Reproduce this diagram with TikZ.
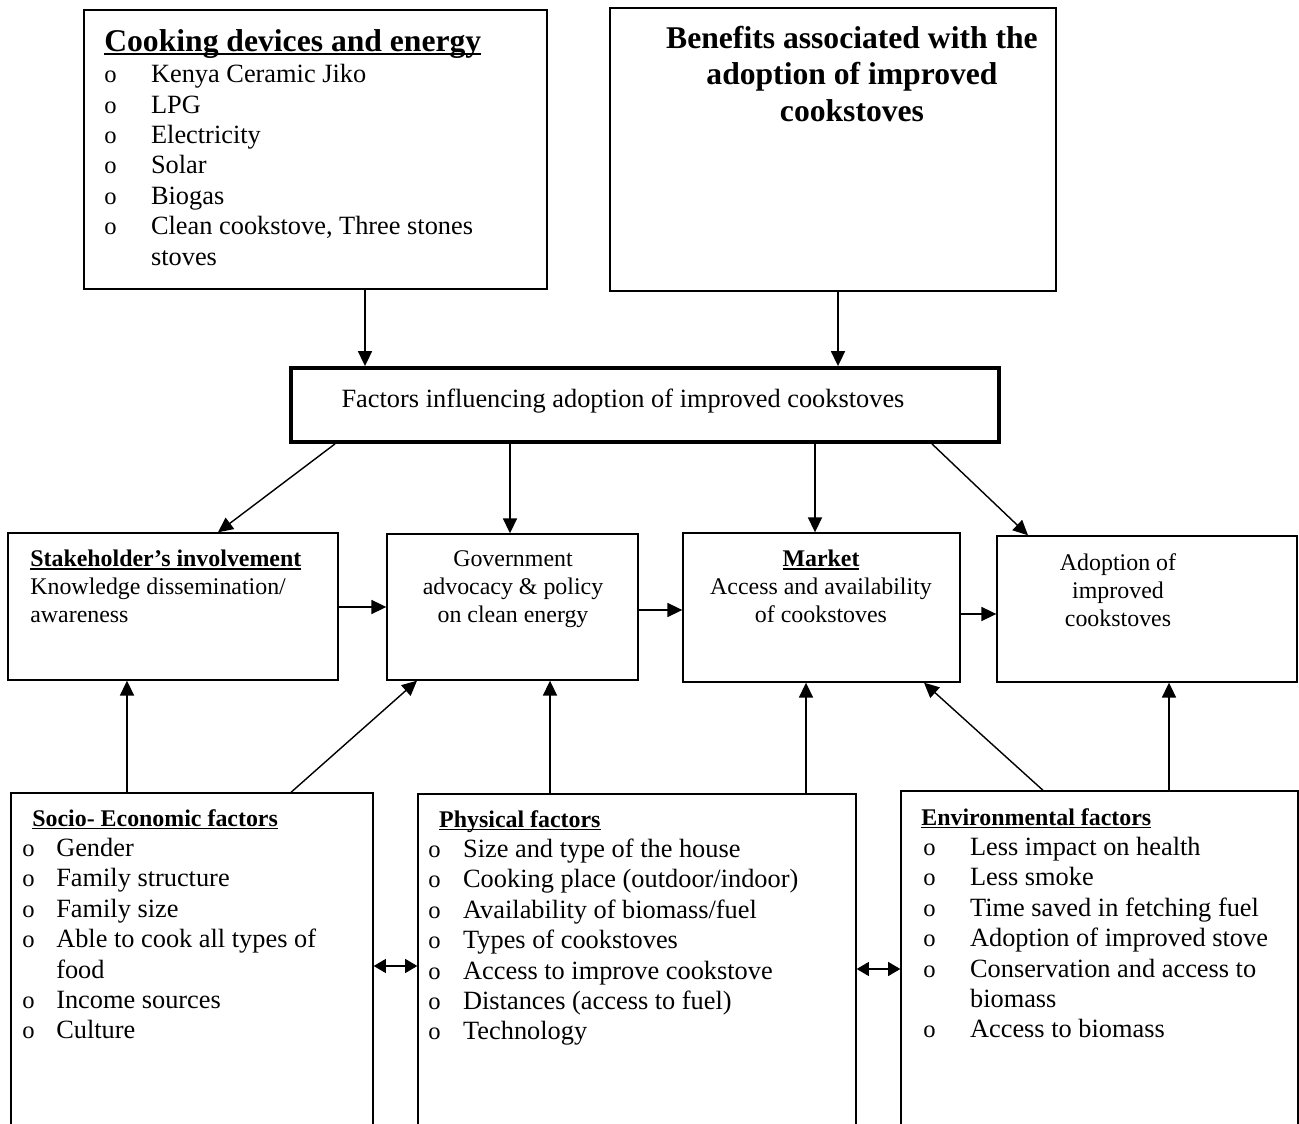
\documentclass[tikz,border=0pt]{standalone}
\usepackage{fontspec}
\setmainfont{Liberation Serif}
\usetikzlibrary{arrows.meta}

% bold heading with a Word-like underline
\newcommand{\ulbf}[1]{\leavevmode\textbf{\setbox0=\hbox{#1}\rlap{\rule[-0.12em]{\wd0}{0.06em}}\box0}}
% list item with a small "o" bullet, and its continuation line
\newcommand{\bul}{{\fontsize{14}{14}\selectfont o}}
\newcommand{\itm}[2]{\makebox[#1][l]{\bul}#2}
\newcommand{\cnt}[2]{\hspace*{#1}#2}
\newcommand{\hdfont}{\fontsize{18}{20.7}\selectfont}
\newcommand{\smfont}{\fontsize{13.6}{15.9}\selectfont}
\newcommand{\lsfont}{\fontsize{15}{17.3}\selectfont}

\tikzset{
    x=0.02cm,
    y=-0.02cm,
    >={Triangle[length=8.5pt,width=8pt]},
    box/.style={draw, line width=0.8pt, inner sep=0pt},
    arr/.style={->, line width=0.8pt},
    twoway/.style={{Triangle[length=7pt,width=8pt]}-{Triangle[length=7pt,width=8pt]}, line width=0.8pt},
    txt/.style={inner sep=0pt, font=\smfont, align=center, anchor=north},
    lst/.style={inner sep=0pt, font=\lsfont, align=left, anchor=north west},
}

\begin{document}
\begin{tikzpicture}
    \useasboundingbox (0,0) rectangle (1299,1124);

    % boxes
    \node[box, minimum width=9.26cm, minimum height=5.58cm] (dev) at (315.5,149.5) {};
    \node[box, minimum width=8.92cm, minimum height=5.66cm] (ben) at (833,149.5) {};
    \node[box, line width=2.2pt, minimum width=14.16cm, minimum height=1.48cm] (fac) at (645,405) {};
    \node[box, minimum width=6.6cm, minimum height=2.94cm] (stk) at (173,606.5) {};
    \node[box, minimum width=5.02cm, minimum height=2.92cm] (gov) at (512.5,607) {};
    \node[box, minimum width=5.54cm, minimum height=2.98cm] (mkt) at (821.5,607.5) {};
    \node[box, minimum width=6cm, minimum height=2.92cm] (adp) at (1147,609) {};
    \node[box, minimum width=7.24cm, minimum height=7cm] (soc) at (192,968) {};
    \node[box, minimum width=8.76cm, minimum height=7cm] (phy) at (637,969) {};
    \node[box, minimum width=7.94cm, minimum height=7cm] (env) at (1099.5,966) {};

    % texts
    \node[lst] (devT) at (104,29) {%
        {\hdfont\ulbf{Cooking devices and energy}}\\[0.6pt]
        \itm{26.6pt}{Kenya Ceramic Jiko}\\
        \itm{26.6pt}{LPG}\\
        \itm{26.6pt}{Electricity}\\
        \itm{26.6pt}{Solar}\\
        \itm{26.6pt}{Biogas}\\
        \itm{26.6pt}{Clean cookstove, Three stones}\\
        \cnt{26.6pt}{stoves}};
    \node[txt, font=\hdfont\bfseries] (benT) at (852,26)
        {Benefits associated with the\\adoption of improved\\cookstoves};
    \node[inner sep=0pt, font=\lsfont, anchor=base] (facT) at (623,408)
        {Factors influencing adoption of improved cookstoves};
    \node[txt, align=left, anchor=north west] (stkT) at (30,550)
        {\ulbf{Stakeholder’s involvement}\\Knowledge dissemination/\\awareness};
    \node[txt] (govT) at (513,550) {Government\\advocacy \& policy\\on clean energy};
    \node[txt] (mktT) at (821,550) {\ulbf{Market}\\Access and availability\\of cookstoves};
    \node[txt] (adpT) at (1118,553) {Adoption of\\improved\\cookstoves};
    \node[lst] (socT) at (22,809) {%
        {\smfont\hspace*{5.7pt}\ulbf{Socio- Economic factors}}\\
        \itm{19.3pt}{Gender}\\
        \itm{19.3pt}{Family structure}\\
        \itm{19.3pt}{Family size}\\
        \itm{19.3pt}{Able to cook all types of}\\
        \cnt{19.3pt}{food}\\
        \itm{19.3pt}{Income sources}\\
        \itm{19.3pt}{Culture}};
    \node[lst] (phyT) at (428,810) {%
        {\smfont\hspace*{6.2pt}\ulbf{Physical factors}}\\
        \itm{19.8pt}{Size and type of the house}\\
        \itm{19.8pt}{Cooking place (outdoor/indoor)}\\
        \itm{19.8pt}{Availability of biomass/fuel}\\
        \itm{19.8pt}{Types of cookstoves}\\
        \itm{19.8pt}{Access to improve cookstove}\\
        \itm{19.8pt}{Distances (access to fuel)}\\
        \itm{19.8pt}{Technology}};
    \node[lst] (envT) at (923,808) {%
        {\smfont\hspace*{-1.1pt}\ulbf{Environmental factors}}\\
        \itm{26.6pt}{Less impact on health}\\
        \itm{26.6pt}{Less smoke}\\
        \itm{26.6pt}{Time saved in fetching fuel}\\
        \itm{26.6pt}{Adoption of improved stove}\\
        \itm{26.6pt}{Conservation and access to}\\
        \cnt{26.6pt}{biomass}\\
        \itm{26.6pt}{Access to biomass}};

    % connectors
    \draw[arr] (dev.south -| 365,0) -- (fac.north -| 365,0);
    \draw[arr] (ben.south -| 838,0) -- (fac.north -| 838,0);
    \draw[arr] (fac.south -| 335,0) -- (stk.north -| 218,0);
    \draw[arr] (fac.south -| 510,0) -- (gov.north -| 510,0);
    \draw[arr] (fac.south -| 815,0) -- (mkt.north -| 815,0);
    \draw[arr] (fac.south -| 932,0) -- (adp.north -| 1028,0);
    \draw[arr] (stk.east |- 0,607) -- (gov.west |- 0,607);
    \draw[arr] (gov.east |- 0,610) -- (mkt.west |- 0,610);
    \draw[arr] (mkt.east |- 0,614) -- (adp.west |- 0,614);
    \draw[arr] (soc.north -| 127,0) -- (stk.south -| 127,0);
    \draw[arr] (soc.north -| 291,0) -- (gov.south -| 417,0);
    \draw[arr] (phy.north -| 550,0) -- (gov.south -| 550,0);
    \draw[arr] (phy.north -| 806,0) -- (mkt.south -| 806,0);
    \draw[arr] (env.north -| 1043,0) -- (mkt.south -| 924,0);
    \draw[arr] (env.north -| 1169,0) -- (adp.south -| 1169,0);
    \draw[twoway] (soc.east |- 0,966) -- (phy.west |- 0,966);
    \draw[twoway] (phy.east |- 0,969) -- (env.west |- 0,969);
\end{tikzpicture}
\end{document}
